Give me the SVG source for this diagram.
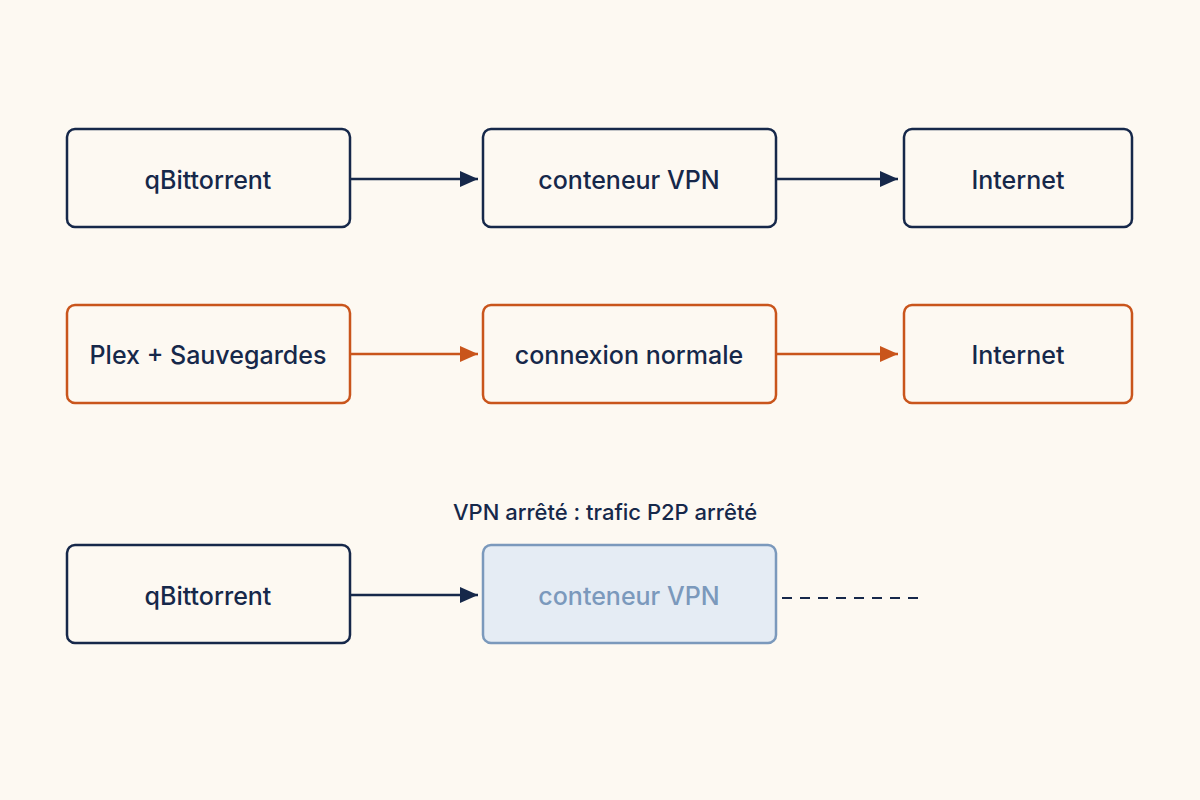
<svg xmlns="http://www.w3.org/2000/svg" width="1200" height="800" viewBox="0 0 1200 800">
<defs>
<style>
.n rect{fill:#fdf9f2;stroke-width:2.5}
.b rect{stroke:#16284a}
.o rect{stroke:#c9551c}
text{font-family:Inter,"Noto Sans",sans-serif;font-size:25px;font-weight:500;fill:#16284a;text-anchor:middle;dominant-baseline:central}
.f rect{fill:#e5ecf4;stroke:#7b99bc}
.f text{fill:#7b99bc}
</style>
<marker id="ab" viewBox="0 0 10 10" refX="10" refY="5" markerWidth="18" markerHeight="16" orient="auto" markerUnits="userSpaceOnUse" preserveAspectRatio="none"><path d="M0,0L10,5L0,10z" fill="#16284a"/></marker>
<marker id="ao" viewBox="0 0 10 10" refX="10" refY="5" markerWidth="18" markerHeight="16" orient="auto" markerUnits="userSpaceOnUse" preserveAspectRatio="none"><path d="M0,0L10,5L0,10z" fill="#c9551c"/></marker>
</defs>
<rect width="1200" height="800" fill="#fdf9f2"/>
<g id="n1" class="n b"><rect x="67" y="129" width="283" height="98" rx="8"/><text x="208" y="180">qBittorrent</text></g>
<g id="n2" class="n b"><rect x="483" y="129" width="293" height="98" rx="8"/><text x="629" y="180">conteneur VPN</text></g>
<g id="n3" class="n b"><rect x="904" y="129" width="228" height="98" rx="8"/><text x="1018" y="180">Internet</text></g>
<g id="n4" class="n o"><rect x="67" y="305" width="283" height="98" rx="8"/><text x="208" y="355">Plex + Sauvegardes</text></g>
<g id="n5" class="n o"><rect x="483" y="305" width="293" height="98" rx="8"/><text x="629" y="355">connexion normale</text></g>
<g id="n6" class="n o"><rect x="904" y="305" width="228" height="98" rx="8"/><text x="1018" y="355">Internet</text></g>
<g id="n7" class="n b"><rect x="67" y="545" width="283" height="98" rx="8"/><text x="208" y="596">qBittorrent</text></g>
<g id="n8" class="n f"><rect x="483" y="545" width="293" height="98" rx="8"/><text x="629" y="596">conteneur VPN</text></g>
<g id="label"><text x="605" y="512" style="font-size:22px">VPN arrêté : trafic P2P arrêté</text></g>
<g id="connectors" fill="none" stroke-width="2.5">
<path d="M350 179H478" stroke="#16284a" marker-end="url(#ab)"/>
<path d="M776 179H898" stroke="#16284a" marker-end="url(#ab)"/>
<path d="M350 354H478" stroke="#c9551c" marker-end="url(#ao)"/>
<path d="M776 354H898" stroke="#c9551c" marker-end="url(#ao)"/>
<path d="M350 595H478" stroke="#16284a" marker-end="url(#ab)"/>
<path d="M782 598H925" stroke="#16284a" stroke-dasharray="10 8" stroke-width="2"/>
</g>
</svg>
